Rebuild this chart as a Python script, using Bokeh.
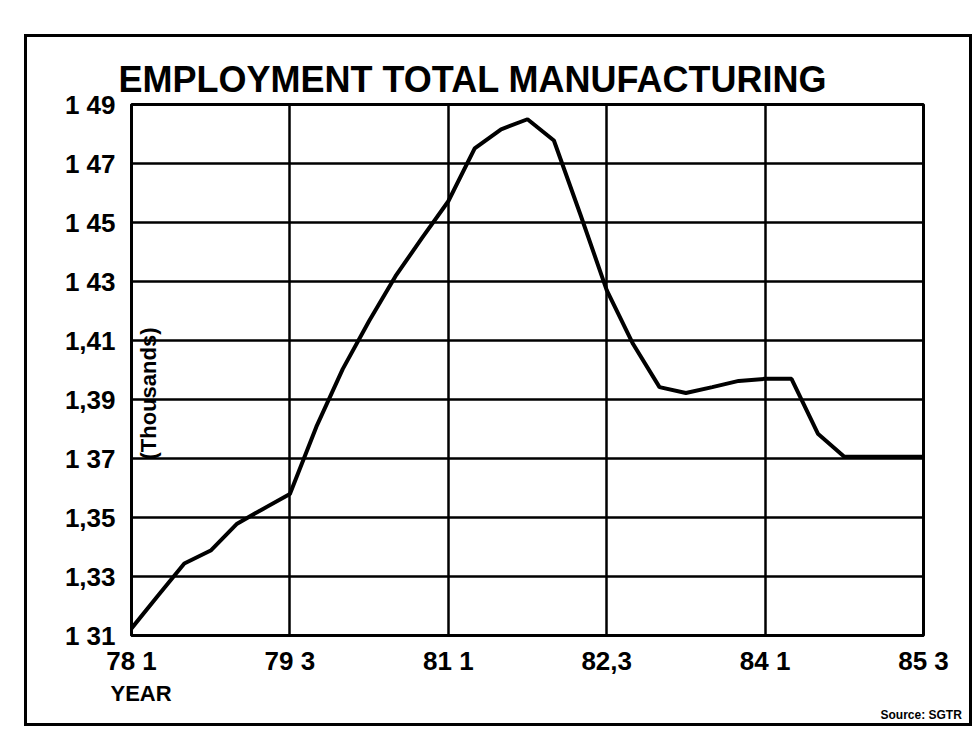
from bokeh.plotting import figure
from bokeh.models import FixedTicker, Label, Range1d, Title
from bokeh.embed import file_html
from bokeh.resources import INLINE
import math

# Quarter index 0 = 1978 Q1 ... 30 = 1985 Q3
quarters = list(range(31))
employment = [1312.4, 1323.5, 1334.4, 1338.8, 1347.9, 1353.0, 1358.0, 1380.7,
              1400.3, 1416.6, 1431.8, 1444.7, 1457.2, 1475.1, 1481.6, 1485.0,
              1477.8, 1452.8, 1427.1, 1408.8, 1394.2, 1392.2, 1394.2, 1396.3,
              1397.0, 1397.0, 1378.4, 1370.6, 1370.6, 1370.6, 1370.6]

x_ticks = [0, 6, 12, 18, 24, 30]
x_tick_labels = ["78 1", "79 3", "81 1", "82,3", "84 1", "85 3"]
y_ticks = [1310, 1330, 1350, 1370, 1390, 1410, 1430, 1450, 1470, 1490]
y_tick_labels = ["1 31", "1,33", "1,35", "1 37", "1,39", "1,41", "1 43", "1 45", "1 47", "1 49"]

title_text = "EMPLOYMENT  TOTAL MANUFACTURING"
x_name = "YEAR"
y_name = "(Thousands)"
source_note = "Source: SGTR"

FONT = "Liberation Sans"

p = figure(width=948, height=692, output_backend="svg", toolbar_location=None,
           x_range=Range1d(0, 30), y_range=Range1d(1310, 1490),
           min_border_left=104, min_border_right=52, min_border_top=67, min_border_bottom=87)
p.margin = (34, 0, 0, 24)
p.styles = {"border": "3px solid black", "box-sizing": "border-box"}

p.background_fill_color = "white"
p.border_fill_color = "white"
p.outline_line_color = "black"
p.outline_line_width = 3

p.title.text = title_text
p.title.align = "left"
p.title.offset = -13
p.title.standoff = 10
p.title.text_font = FONT
p.title.text_font_style = "bold"
p.title.text_font_size = "36px"
p.title.text_color = "black"

p.xaxis.ticker = FixedTicker(ticks=x_ticks)
p.yaxis.ticker = FixedTicker(ticks=y_ticks)
p.xaxis.major_label_overrides = dict(zip(x_ticks, x_tick_labels))
p.yaxis.major_label_overrides = dict(zip(y_ticks, y_tick_labels))

for ax in (p.xaxis, p.yaxis):
    ax.axis_line_color = "black"
    ax.axis_line_width = 3
    ax.major_tick_line_color = None
    ax.minor_tick_line_color = None
    ax.major_label_text_font = FONT
    ax.major_label_text_font_style = "bold"
    ax.major_label_text_font_size = "26px"
    ax.major_label_text_color = "black"
p.xaxis.major_label_standoff = 4
p.xaxis.axis_label_standoff = 0
p.yaxis.major_label_standoff = 10

p.xgrid.ticker = FixedTicker(ticks=x_ticks)
p.ygrid.ticker = FixedTicker(ticks=y_ticks)
for g in (p.xgrid, p.ygrid):
    g.grid_line_color = "black"
    g.grid_line_width = 2.5

p.line(quarters, employment, line_color="black", line_width=4)

p.add_layout(Title(text=x_name, align="left", offset=-21, standoff=0,
                   text_font=FONT, text_font_style="bold", text_font_size="22px",
                   text_color="black"), "below")
p.add_layout(Title(text=source_note, align="left", offset=749, standoff=0,
                   text_font=FONT, text_font_style="bold", text_font_size="12px",
                   text_color="black"), "below")
# small blank strip so the source note clears the outer border
p.add_layout(Title(text=" ", standoff=0, text_font_size="5px"), "below")

p.add_layout(Label(x=17, y=242, x_units="screen", y_units="screen", text=y_name,
                   angle=math.pi / 2, text_align="center", text_baseline="middle",
                   text_font=FONT, text_font_style="bold", text_font_size="22px",
                   text_color="black"))

open("out.html", "w").write(file_html(p, INLINE))
